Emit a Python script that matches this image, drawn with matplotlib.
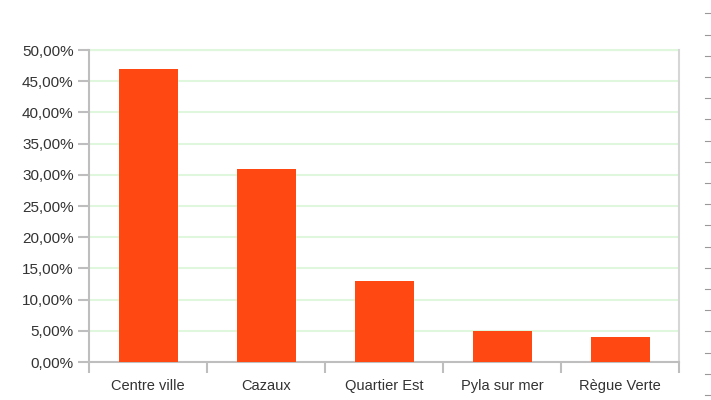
import matplotlib.pyplot as plt
from matplotlib.ticker import FuncFormatter, FixedLocator
from matplotlib.lines import Line2D

plt.rcParams['font.family'] = ['Liberation Sans', 'DejaVu Sans']

categories = ['Centre ville', 'Cazaux', 'Quartier Est', 'Pyla sur mer', 'Règue Verte']
values = [47, 31, 13, 5, 4]
y_ticks = [0, 5, 10, 15, 20, 25, 30, 35, 40, 45, 50]

bar_color = '#FF4812'
grid_color = '#DFF7DC'
axis_color = '#BEBEBE'
text_color = '#333333'

fig = plt.figure(figsize=(7.11, 4), dpi=100)
ax = fig.add_axes([89 / 711, 1 - 362 / 400, 590 / 711, 312 / 400])

x = list(range(len(categories)))
ax.bar(x, values, width=0.5, color=bar_color, zorder=3)

ax.set_xlim(-0.5, len(categories) - 0.5)
ax.set_ylim(0, 50)
ax.set_yticks(y_ticks)
ax.yaxis.set_major_formatter(FuncFormatter(lambda v, p: f"{v:.2f}".replace('.', ',') + '%'))
ax.yaxis.grid(True, color=grid_color, linewidth=1.5, zorder=0)

ax.set_xticks(x)
ax.set_xticklabels(categories)
ax.xaxis.set_minor_locator(FixedLocator([i - 0.5 for i in range(len(categories) + 1)]))
ax.tick_params(axis='x', which='major', length=0, pad=12, labelsize=10.5, labelcolor=text_color)
ax.tick_params(axis='x', which='minor', length=8, width=1.5, color=axis_color)
ax.tick_params(axis='y', length=8, width=1.5, color=axis_color, labelsize=11, labelcolor=text_color, pad=3)

for side in ['left', 'bottom', 'right']:
    ax.spines[side].set_color(axis_color)
    ax.spines[side].set_linewidth(1.5)
ax.spines['right'].set_color('#D6D6D6')
ax.spines['top'].set_visible(False)
ax.plot([-0.5, len(categories) - 0.5], [50, 50], color=grid_color, linewidth=1.5, zorder=1, clip_on=False)

# dashes along the right edge (cropped neighbour)
for i in range(19):
    yy = 1 - (13.3 + i * 21.2) / 400
    fig.add_artist(Line2D([705 / 711, 710 / 711], [yy, yy], color='#999999', linewidth=0.8))

fig.savefig('out.png', dpi=100)
